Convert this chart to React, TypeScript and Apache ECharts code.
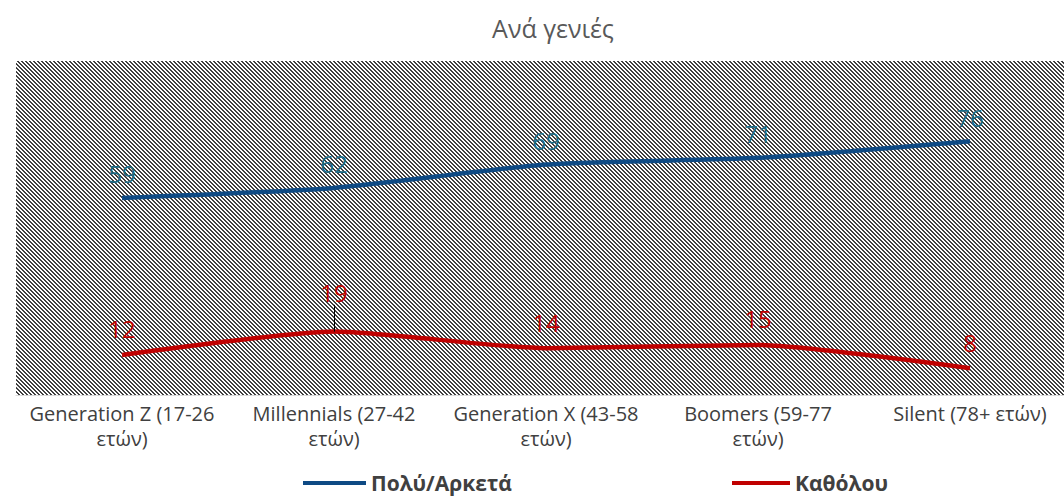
import React, { useEffect, useRef } from "react";
import * as echarts from "echarts";

const categories = [
  "Generation Z (17-26\nετών)",
  "Millennials (27-42\nετών)",
  "Generation X (43-58\nετών)",
  "Boomers (59-77\nετών)",
  "Silent (78+ ετών)",
];
const seriesNames = ["Πολύ/Αρκετά", "Καθόλου"];
const muchValues = [59, 62, 69, 71, 76];
const notAtAllValues = [12, 19, 14, 15, 8];
const titleText = "Ανά γενιές";

function makeHatch(): string {
  const c = document.createElement("canvas");
  c.width = 8;
  c.height = 8;
  const ctx = c.getContext("2d")!;
  ctx.fillStyle = "#ffffff";
  ctx.fillRect(0, 0, 8, 8);
  ctx.fillStyle = "#404040";
  for (let y = 0; y < 8; y++) {
    for (let x = 0; x < 8; x++) {
      const m = (((x - y) % 4) + 4) % 4;
      if (m < 2) ctx.fillRect(x, y, 1, 1);
    }
  }
  return c.toDataURL();
}

export default function App() {
  const ref = useRef<HTMLDivElement>(null);
  useEffect(() => {
    if (!ref.current) return;
    const chart = echarts.init(ref.current, null, { renderer: "svg" });
    const font = "'Open Sans', sans-serif";
    const hatch = makeHatch();
    const legendText = {
      fontFamily: font,
      fontSize: 21,
      fontWeight: "bold",
      color: "#404040",
      lineHeight: 22,
    };
    chart.setOption({
      animation: false,
      backgroundColor: "#ffffff",
      title: {
        text: titleText,
        left: 548,
        top: 10,
        textAlign: "center",
        textStyle: {
          fontFamily: font,
          fontSize: 25,
          fontWeight: "normal",
          color: "#595959",
        },
      },
      grid: {
        left: 16,
        right: 0,
        top: 61,
        bottom: 105,
        show: true,
        borderWidth: 0,
        backgroundColor: {
          image: hatch,
          repeat: "repeat",
          imageWidth: 8,
          imageHeight: 8,
        } as any,
      },
      legend: [
        {
          data: [seriesNames[0]],
          left: 298,
          top: 467,
          icon: "rect",
          itemWidth: 63,
          itemHeight: 4,
          textStyle: legendText,
        },
        {
          data: [seriesNames[1]],
          left: 727,
          top: 467,
          icon: "rect",
          itemWidth: 58,
          itemHeight: 4,
          textStyle: legendText,
        },
      ],
      xAxis: {
        type: "category",
        data: categories,
        boundaryGap: true,
        axisLine: { lineStyle: { color: "#d9d9d9", width: 1 } },
        axisTick: { show: false },
        axisLabel: {
          fontFamily: font,
          fontSize: 20,
          lineHeight: 25,
          color: "#404040",
          margin: 6,
          interval: 0,
        },
      },
      yAxis: {
        type: "value",
        min: 0,
        max: 100,
        show: false,
        splitLine: { show: false },
      },
      series: [
        {
          name: seriesNames[0],
          type: "line",
          data: muchValues,
          smooth: 0.2,
          showSymbol: true,
          symbol: "circle",
          symbolSize: 0.01,
          lineStyle: { color: "#0e4a84", width: 4.5 },
          itemStyle: { color: "#0e4a84" },
          label: {
            show: true,
            position: "top",
            distance: 12,
            fontFamily: font,
            fontSize: 24,
            color: "#1b6b86",
          },
        },
        {
          name: seriesNames[1],
          type: "line",
          data: notAtAllValues.map((v, i) =>
            i === 1 ? { value: v, label: { distance: 27 } } : v
          ),
          smooth: 0.2,
          showSymbol: true,
          symbol: "circle",
          symbolSize: 0.01,
          lineStyle: { color: "#c00000", width: 4.5 },
          itemStyle: { color: "#c00000" },
          label: {
            show: true,
            position: "top",
            distance: 14,
            fontFamily: font,
            fontSize: 24,
            color: "#c00000",
          },
          markLine: {
            silent: true,
            symbol: "none",
            label: { show: false },
            lineStyle: { color: "#000000", width: 1, type: "solid" },
            data: [
              [
                { coord: [1, notAtAllValues[1]] },
                { coord: [1, notAtAllValues[1] + 8] },
              ],
            ],
          },
        },
      ],
    });
    return () => chart.dispose();
  }, []);
  return (
    <div
      style={{
        position: "absolute",
        left: 0,
        top: 0,
        width: 1064,
        height: 500,
        overflow: "hidden",
      }}
    >
      <div ref={ref} style={{ width: 1076, height: 500 }} />
    </div>
  );
}
